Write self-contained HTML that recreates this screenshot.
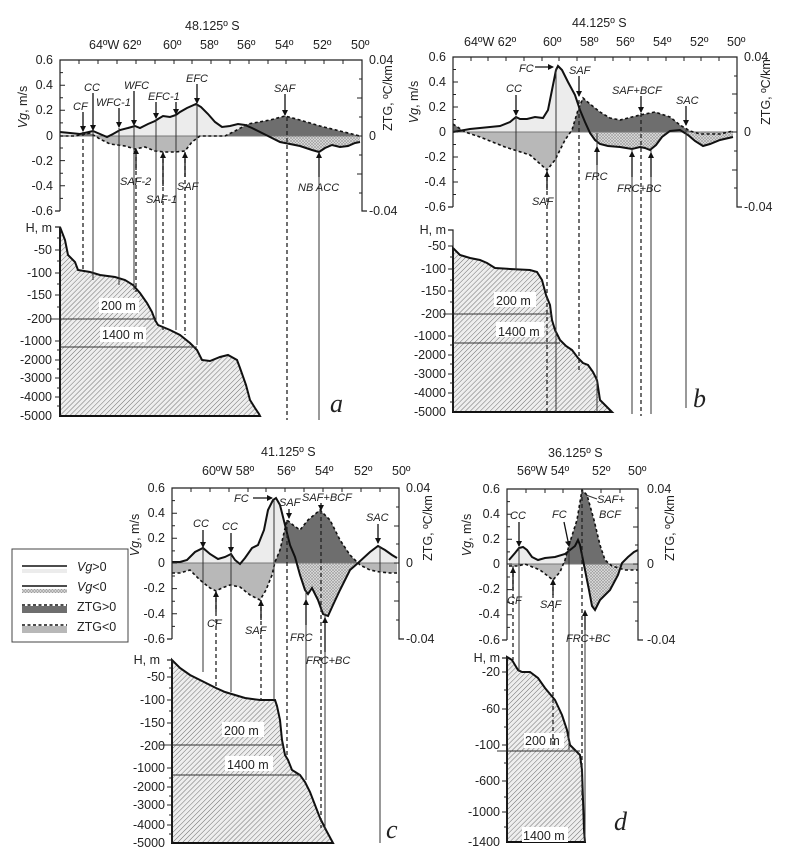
<!DOCTYPE html>
<html><head><meta charset="utf-8"><style>
html,body{margin:0;padding:0;background:#fff}
svg{display:block}
text{font-family:"Liberation Sans",Arial,sans-serif;fill:#222}
.t{font-size:12.5px}
.i{font-size:11px;font-style:italic}
.L{font-family:"Liberation Serif",serif;font-style:italic;font-size:26px}
.ax{stroke:#222;stroke-width:1.2;fill:none}
.vl{stroke:#333;stroke-width:1;fill:none}
.vd{stroke:#222;stroke-width:1.3;stroke-dasharray:4,3;fill:none}
.vg{stroke:#111;stroke-width:2;fill:none}
.zt{stroke:#111;stroke-width:1.6;stroke-dasharray:3,2.5;fill:none}
.ar{stroke:#111;stroke-width:1.3;marker-end:url(#ah)}
.bt{stroke:#111;stroke-width:2;fill:url(#hb)}
.lv{stroke:#333;stroke-width:1}
.bg{fill:#fff}
</style></head><body>
<svg width="792" height="862" viewBox="0 0 792 862" xmlns="http://www.w3.org/2000/svg">
<defs>
<marker id="ah" markerWidth="6" markerHeight="6" refX="5" refY="3" orient="auto" markerUnits="userSpaceOnUse"><path d="M0,0L6,3L0,6z" fill="#111"/></marker>
<pattern id="hb" width="3.5" height="3.5" patternUnits="userSpaceOnUse" patternTransform="rotate(45)"><rect width="3.5" height="3.5" fill="#eeeeee"/><line x1="0" y1="0" x2="0" y2="3.5" stroke="#707070" stroke-width="1"/></pattern>
<pattern id="hn" width="3" height="3" patternUnits="userSpaceOnUse"><rect width="3" height="3" fill="#e0e0e0"/><path d="M0,0L3,3M3,0L0,3" stroke="#999" stroke-width="0.6"/></pattern>
<clipPath id="ua"><rect x="0" y="0" width="792" height="136"/></clipPath>
<clipPath id="la"><rect x="0" y="136" width="792" height="300"/></clipPath>
<clipPath id="ub"><rect x="0" y="0" width="792" height="132"/></clipPath>
<clipPath id="lb"><rect x="0" y="132" width="792" height="300"/></clipPath>
<clipPath id="uc"><rect x="0" y="400" width="792" height="163"/></clipPath>
<clipPath id="lc"><rect x="0" y="563" width="792" height="300"/></clipPath>
<clipPath id="ud"><rect x="0" y="400" width="792" height="164"/></clipPath>
<clipPath id="ld"><rect x="0" y="564" width="792" height="300"/></clipPath>
</defs>

<!-- ================= PANEL A ================= -->
<g>
<path class="bt" d="M60,416L60,227L65,240L68,255L75,262L78,270L90,272L100,275L115,277L125,280L133,285L140,293L147,303L152,312L155,320L158,325L170,330L180,335L190,343L197,350L202,360L210,361L220,357L228,355L237,360L240,368L246,385L250,400L255,408L259,414L260,416Z"/>
<line class="lv" x1="50" y1="319" x2="155" y2="319"/><line class="lv" x1="60" y1="347" x2="197" y2="347"/>
<rect class="bg" x="99" y="298" width="40" height="15"/><text class="t" x="101" y="310">200 m</text>
<rect class="bg" x="100" y="327" width="46" height="15"/><text class="t" x="102" y="339">1400 m</text>
<path d="M60,136L60,132L70,133L80,134L93,131L100,134L107,137L113,134L120,130L128,128L135,126L140,128L148,124L155,121L158,119L163,116L170,117L176,115L180,112L187,108L196,104L201,107L208,114L215,122L222,127L230,126L238,124L245,125L252,128L260,132L270,137L280,142L290,144L300,146L312,150L319,152L325,148L332,145L340,147L348,146L355,143L360,142L360,136Z" fill="#ececec" clip-path="url(#ua)"/>
<path d="M60,136L75,136L90,133L100,139L110,144L125,146L135,149L145,147L155,151L165,152L175,152L185,151L192,142L200,136L225,136L235,131L248,124L270,120L285,116L300,120L320,126L340,131L360,136Z" fill="#6e6e6e" clip-path="url(#ua)"/>
<path d="M60,136L75,136L90,133L100,139L110,144L125,146L135,149L145,147L155,151L165,152L175,152L185,151L192,142L200,136L225,136L235,131L248,124L270,120L285,116L300,120L320,126L340,131L360,136Z" fill="#b8b8b8" clip-path="url(#la)"/>
<path d="M60,136L60,132L70,133L80,134L93,131L100,134L107,137L113,134L120,130L128,128L135,126L140,128L148,124L155,121L158,119L163,116L170,117L176,115L180,112L187,108L196,104L201,107L208,114L215,122L222,127L230,126L238,124L245,125L252,128L260,132L270,137L280,142L290,144L300,146L312,150L319,152L325,148L332,145L340,147L348,146L355,143L360,142L360,136Z" fill="url(#hn)" clip-path="url(#la)"/>
<line x1="60" y1="136" x2="362" y2="136" stroke="#777" stroke-width="1"/>
<path class="zt" d="M60,136L75,136L90,133L100,139L110,144L125,146L135,149L145,147L155,151L165,152L175,152L185,151L192,142L200,136L225,136L235,131L248,124L270,120L285,116L300,120L320,126L340,131L360,136"/>
<path class="vg" d="M60,132L70,133L80,134L93,131L100,134L107,137L113,134L120,130L128,128L135,126L140,128L148,124L155,121L158,119L163,116L170,117L176,115L180,112L187,108L196,104L201,107L208,114L215,122L222,127L230,126L238,124L245,125L252,128L260,132L270,137L280,142L290,144L300,146L312,150L319,152L325,148L332,145L340,147L348,146L355,143L360,142"/>
<line class="vd" x1="83" y1="132" x2="83" y2="272"/>
<line class="vl" x1="93" y1="130" x2="93" y2="280"/>
<line class="vl" x1="119" y1="128" x2="119" y2="285"/>
<line class="vl" x1="134" y1="126" x2="134" y2="290"/>
<line class="vd" x1="136" y1="150" x2="136" y2="292"/>
<line class="vl" x1="156" y1="120" x2="156" y2="320"/>
<line class="vd" x1="163" y1="152" x2="163" y2="330"/>
<line class="vl" x1="176" y1="115" x2="176" y2="330"/>
<line class="vd" x1="185" y1="152" x2="185" y2="335"/>
<line class="vl" x1="197" y1="104" x2="197" y2="345"/>
<line class="vd" x1="287" y1="117" x2="287" y2="420"/>
<line class="vl" x1="319" y1="152" x2="319" y2="420"/>
<line class="ar" x1="83" y1="112" x2="83" y2="131"/><text class="i" x="73" y="110">CF</text>
<line class="ar" x1="93" y1="93" x2="93" y2="130"/><text class="i" x="84" y="91">CC</text>
<line class="ar" x1="119" y1="108" x2="119" y2="127"/><text class="i" x="96" y="106">WFC-1</text>
<line class="ar" x1="134" y1="91" x2="134" y2="125"/><text class="i" x="124" y="89">WFC</text>
<line class="ar" x1="156" y1="102" x2="156" y2="118"/><line class="ar" x1="176" y1="102" x2="176" y2="114"/><text class="i" x="148" y="100">EFC-1</text>
<line class="ar" x1="197" y1="84" x2="197" y2="103"/><text class="i" x="186" y="82">EFC</text>
<line class="ar" x1="285" y1="94" x2="285" y2="115"/><text class="i" x="274" y="92">SAF</text>
<line class="ar" x1="136" y1="170" x2="136" y2="149"/><text class="i" x="120" y="185">SAF-2</text>
<line class="ar" x1="163" y1="186" x2="163" y2="153"/><text class="i" x="146" y="203">SAF-1</text>
<line class="ar" x1="185" y1="177" x2="185" y2="153"/><text class="i" x="177" y="190">SAF</text>
<line class="ar" x1="319" y1="177" x2="319" y2="153"/><text class="i" x="298" y="191">NB ACC</text>
<path class="ax" d="M60,211H55M60,211V60H362V211H367"/>
<path class="ax" d="M60,416V227H55"/>
<text class="t" x="185" y="30">48.125º S</text>
<text class="t" x="89" y="49">64ºW 62º</text><text class="t" x="163" y="49">60º</text><text class="t" x="200" y="49">58º</text><text class="t" x="237" y="49">56º</text><text class="t" x="275" y="49">54º</text><text class="t" x="313" y="49">52º</text><text class="t" x="351" y="49">50º</text>
<g class="t" text-anchor="end"><text x="53" y="64">0.6</text><text x="53" y="89">0.4</text><text x="53" y="114">0.2</text><text x="53" y="140">0</text><text x="53" y="165">-0.2</text><text x="53" y="190">-0.4</text><text x="53" y="215">-0.6</text>
<text x="52" y="232">H, m</text><text x="52" y="254">-50</text><text x="52" y="277">-100</text><text x="52" y="299">-150</text><text x="52" y="323">-200</text><text x="52" y="345">-1000</text><text x="52" y="364">-2000</text><text x="52" y="382">-3000</text><text x="52" y="401">-4000</text><text x="52" y="420">-5000</text></g>
<text class="t" x="369" y="64">0.04</text><text class="t" x="369" y="140">0</text><text class="t" x="369" y="215">-0.04</text>
<text class="t" transform="translate(27,107) rotate(-90)" text-anchor="middle"><tspan font-style="italic">Vg</tspan>, m/s</text>
<text class="t" transform="translate(392,98) rotate(-90)" text-anchor="middle">ZTG, ºC/km</text>
<text class="L" x="330" y="412">a</text>
</g>

<!-- ================= PANEL B ================= -->
<g>
<path class="bt" d="M453,412L453,248L460,255L470,258L480,260L487,263L495,268L510,269L530,270L537,272L542,280L546,295L550,305L552,320L555,330L560,340L566,346L572,350L578,358L583,363L588,365L593,372L597,380L600,400L606,406L612,412Z"/>
<line class="lv" x1="443" y1="314" x2="552" y2="314"/><line class="lv" x1="453" y1="343" x2="560" y2="343"/>
<rect class="bg" x="494" y="292" width="42" height="15"/><text class="t" x="496" y="305">200 m</text>
<rect class="bg" x="496" y="322" width="48" height="15"/><text class="t" x="498" y="336">1400 m</text>
<path d="M453,132L470,129L480,128L500,126L510,122L516,117L520,119L527,119L535,117L543,118L548,110L552,90L556,70L558,66L562,70L568,82L575,95L580,110L585,122L590,133L595,140L600,144L608,146L620,147L632,149L640,147L645,148L650,150L656,145L662,137L670,131L680,130L688,135L695,141L703,146L710,144L720,140L733,137L733,132Z" fill="#ececec" clip-path="url(#ub)"/>
<path d="M453,124L465,132L480,137L505,147L530,155L547,170L555,160L565,140L572,130L578,110L583,98L590,104L600,112L610,118L620,120L640,115L655,112L670,117L680,125L690,131L700,134L720,134L733,131L733,132L453,132Z" fill="#6e6e6e" clip-path="url(#ub)"/>
<path d="M453,124L465,132L480,137L505,147L530,155L547,170L555,160L565,140L572,130L578,110L583,98L590,104L600,112L610,118L620,120L640,115L655,112L670,117L680,125L690,131L700,134L720,134L733,131L733,132L453,132Z" fill="#b8b8b8" clip-path="url(#lb)"/>
<path d="M453,132L470,129L480,128L500,126L510,122L516,117L520,119L527,119L535,117L543,118L548,110L552,90L556,70L558,66L562,70L568,82L575,95L580,110L585,122L590,133L595,140L600,144L608,146L620,147L632,149L640,147L645,148L650,150L656,145L662,137L670,131L680,130L688,135L695,141L703,146L710,144L720,140L733,137L733,132Z" fill="url(#hn)" clip-path="url(#lb)"/>
<line x1="453" y1="132" x2="737" y2="132" stroke="#777"/>
<path class="zt" d="M453,124L465,132L480,137L505,147L530,155L547,170L555,160L565,140L572,130L578,110L583,98L590,104L600,112L610,118L620,120L640,115L655,112L670,117L680,125L690,131L700,134L720,134L733,131"/>
<path class="vg" d="M453,132L470,129L480,128L500,126L510,122L516,117L520,119L527,119L535,117L543,118L548,110L552,90L556,70L558,66L562,70L568,82L575,95L580,110L585,122L590,133L595,140L600,144L608,146L620,147L632,149L640,147L645,148L650,150L656,145L662,137L670,131L680,130L688,135L695,141L703,146L710,144L720,140L733,137"/>
<line class="vl" x1="516" y1="117" x2="516" y2="270"/>
<line class="vd" x1="547" y1="170" x2="547" y2="412"/>
<line class="vl" x1="556" y1="68" x2="556" y2="412"/>
<line class="vd" x1="579" y1="100" x2="579" y2="372"/>
<line class="vl" x1="597" y1="133" x2="597" y2="412"/>
<line class="vl" x1="632" y1="149" x2="632" y2="414"/>
<line class="vd" x1="641" y1="113" x2="641" y2="416"/>
<line class="vl" x1="651" y1="150" x2="651" y2="414"/>
<line class="vl" x1="686" y1="130" x2="686" y2="408"/>
<line class="ar" x1="516" y1="95" x2="516" y2="115"/><text class="i" x="506" y="92">CC</text>
<line class="ar" x1="535" y1="67" x2="553" y2="67"/><text class="i" x="519" y="72">FC</text>
<line class="ar" x1="579" y1="76" x2="579" y2="96"/><text class="i" x="569" y="74">SAF</text>
<line class="ar" x1="641" y1="96" x2="641" y2="112"/><text class="i" x="612" y="94">SAF+BCF</text>
<line class="ar" x1="686" y1="106" x2="686" y2="125"/><text class="i" x="676" y="104">SAC</text>
<line class="ar" x1="547" y1="190" x2="547" y2="172"/><text class="i" x="532" y="205">SAF</text>
<line class="ar" x1="597" y1="165" x2="597" y2="147"/><text class="i" x="585" y="180">FRC</text>
<line class="ar" x1="632" y1="177" x2="632" y2="152"/><line class="ar" x1="651" y1="177" x2="651" y2="153"/><text class="i" x="617" y="192">FRC+BC</text>
<path class="ax" d="M453,207H448M453,207V57H737V207H742"/>
<path class="ax" d="M453,412V230H448"/>
<text class="t" x="572" y="27">44.125º S</text>
<text class="t" x="464" y="46">64ºW 62º</text><text class="t" x="543" y="46">60º</text><text class="t" x="580" y="46">58º</text><text class="t" x="616" y="46">56º</text><text class="t" x="653" y="46">54º</text><text class="t" x="690" y="46">52º</text><text class="t" x="727" y="46">50º</text>
<g class="t" text-anchor="end"><text x="446" y="61">0.6</text><text x="446" y="86">0.4</text><text x="446" y="111">0.2</text><text x="446" y="136">0</text><text x="446" y="161">-0.2</text><text x="446" y="186">-0.4</text><text x="446" y="211">-0.6</text>
<text x="446" y="234">H, m</text><text x="446" y="250">-50</text><text x="446" y="273">-100</text><text x="446" y="295">-150</text><text x="446" y="318">-200</text><text x="446" y="340">-1000</text><text x="446" y="359">-2000</text><text x="446" y="378">-3000</text><text x="446" y="397">-4000</text><text x="446" y="416">-5000</text></g>
<text class="t" x="744" y="61">0.04</text><text class="t" x="744" y="136">0</text><text class="t" x="744" y="211">-0.04</text>
<text class="t" transform="translate(418,102) rotate(-90)" text-anchor="middle"><tspan font-style="italic">Vg</tspan>, m/s</text>
<text class="t" transform="translate(770,92) rotate(-90)" text-anchor="middle">ZTG, ºC/km</text>
<text class="L" x="693" y="407">b</text>
</g>

<!-- ================= PANEL C ================= -->
<g>
<path class="bt" d="M172,843L172,660L180,668L190,675L200,680L210,685L216,688L225,692L235,695L245,698L260,700L270,700L275,700L277,706L280,720L282,740L285,755L288,760L292,770L300,775L305,782L310,792L315,805L320,818L326,830L333,843Z"/>
<line class="lv" x1="160" y1="745" x2="283" y2="745"/><line class="lv" x1="172" y1="775" x2="300" y2="775"/>
<rect class="bg" x="222" y="722" width="42" height="15"/><text class="t" x="224" y="735">200 m</text>
<rect class="bg" x="225" y="756" width="48" height="15"/><text class="t" x="227" y="769">1400 m</text>
<path d="M172,562L180,562L187,560L195,552L203,548L210,554L218,559L225,557L231,554L235,560L240,564L245,558L252,548L258,545L264,530L268,510L273,500L276,498L280,505L285,525L290,545L295,557L300,575L305,590L308,594L312,588L318,600L323,614L328,616L333,605L340,590L350,570L358,563L370,552L378,546L385,550L392,555L397,558L397,563L172,563Z" fill="#ececec" clip-path="url(#uc)"/>
<path d="M172,573L180,573L190,570L200,580L210,588L216,591L222,588L230,585L240,587L250,595L260,600L266,590L272,575L275,562L280,550L287,520L293,525L300,530L308,520L320,510L330,520L340,540L350,555L360,565L370,570L380,572L390,573L397,573L397,563L172,563Z" fill="#6e6e6e" clip-path="url(#uc)"/>
<path d="M172,573L180,573L190,570L200,580L210,588L216,591L222,588L230,585L240,587L250,595L260,600L266,590L272,575L275,562L280,550L287,520L293,525L300,530L308,520L320,510L330,520L340,540L350,555L360,565L370,570L380,572L390,573L397,573L397,563L172,563Z" fill="#b8b8b8" clip-path="url(#lc)"/>
<path d="M172,562L180,562L187,560L195,552L203,548L210,554L218,559L225,557L231,554L235,560L240,564L245,558L252,548L258,545L264,530L268,510L273,500L276,498L280,505L285,525L290,545L295,557L300,575L305,590L308,594L312,588L318,600L323,614L328,616L333,605L340,590L350,570L358,563L370,552L378,546L385,550L392,555L397,558L397,563L172,563Z" fill="url(#hn)" clip-path="url(#lc)"/>
<line x1="172" y1="563" x2="399" y2="563" stroke="#777"/>
<path class="zt" d="M172,573L180,573L190,570L200,580L210,588L216,591L222,588L230,585L240,587L250,595L260,600L266,590L272,575L275,562L280,550L287,520L293,525L300,530L308,520L320,510L330,520L340,540L350,555L360,565L370,570L380,572L390,573L397,573"/>
<path class="vg" d="M172,562L180,562L187,560L195,552L203,548L210,554L218,559L225,557L231,554L235,560L240,564L245,558L252,548L258,545L264,530L268,510L273,500L276,498L280,505L285,525L290,545L295,557L300,575L305,590L308,594L312,588L318,600L323,614L328,616L333,605L340,590L350,570L358,563L370,552L378,546L385,550L392,555L397,558"/>
<line class="vl" x1="203" y1="548" x2="203" y2="672"/>
<line class="vd" x1="216" y1="591" x2="216" y2="688"/>
<line class="vl" x1="231" y1="554" x2="231" y2="692"/>
<line class="vd" x1="261" y1="600" x2="261" y2="700"/>
<line class="vl" x1="274" y1="500" x2="274" y2="700"/>
<line class="vd" x1="287" y1="520" x2="287" y2="758"/>
<line class="vl" x1="306" y1="590" x2="306" y2="780"/>
<line class="vd" x1="321" y1="510" x2="321" y2="828"/>
<line class="vl" x1="325" y1="614" x2="325" y2="830"/>
<line class="vl" x1="380" y1="546" x2="380" y2="843"/>
<line class="ar" x1="203" y1="530" x2="203" y2="547"/><text class="i" x="193" y="527">CC</text>
<line class="ar" x1="231" y1="533" x2="231" y2="552"/><text class="i" x="222" y="530">CC</text>
<line class="ar" x1="253" y1="498" x2="272" y2="498"/><text class="i" x="234" y="502">FC</text>
<text class="i" x="279" y="506">SAF</text><line class="ar" x1="289" y1="509" x2="289" y2="518"/>
<line class="ar" x1="321" y1="503" x2="321" y2="510"/><text class="i" x="302" y="501">SAF+BCF</text>
<line class="ar" x1="378" y1="524" x2="378" y2="543"/><text class="i" x="366" y="521">SAC</text>
<line class="ar" x1="216" y1="612" x2="216" y2="592"/><text class="i" x="207" y="627">CF</text>
<line class="ar" x1="261" y1="620" x2="261" y2="601"/><text class="i" x="245" y="634">SAF</text>
<line class="ar" x1="306" y1="625" x2="306" y2="600"/><text class="i" x="290" y="641">FRC</text>
<line class="ar" x1="325" y1="652" x2="325" y2="618"/><text class="i" x="306" y="664">FRC+BC</text>
<path class="ax" d="M172,639H167M172,639V488H399V639H404"/>
<path class="ax" d="M172,843V660H167"/>
<text class="t" x="261" y="456">41.125º S</text>
<text class="t" x="202" y="475">60ºW 58º</text><text class="t" x="277" y="475">56º</text><text class="t" x="315" y="475">54º</text><text class="t" x="354" y="475">52º</text><text class="t" x="392" y="475">50º</text>
<g class="t" text-anchor="end"><text x="165" y="492">0.6</text><text x="165" y="517">0.4</text><text x="165" y="542">0.2</text><text x="165" y="567">0</text><text x="165" y="592">-0.2</text><text x="165" y="618">-0.4</text><text x="165" y="643">-0.6</text>
<text x="160" y="664">H, m</text><text x="165" y="681">-50</text><text x="165" y="704">-100</text><text x="165" y="727">-150</text><text x="165" y="750">-200</text><text x="165" y="772">-1000</text><text x="165" y="791">-2000</text><text x="165" y="809">-3000</text><text x="165" y="829">-4000</text><text x="165" y="847">-5000</text></g>
<text class="t" x="406" y="492">0.04</text><text class="t" x="406" y="567">0</text><text class="t" x="406" y="643">-0.04</text>
<text class="t" transform="translate(139,535) rotate(-90)" text-anchor="middle"><tspan font-style="italic">Vg</tspan>, m/s</text>
<text class="t" transform="translate(432,528) rotate(-90)" text-anchor="middle">ZTG, ºC/km</text>
<text class="L" x="386" y="838">c</text>
</g>

<!-- ================= PANEL D ================= -->
<g>
<path class="bt" d="M507,842L507,657L512,660L515,665L518,670L522,672L530,672L538,678L545,688L555,700L562,715L567,730L570,745L575,750L580,755L582,770L583,800L584,830L585,842Z"/>
<line class="lv" x1="497" y1="751" x2="580" y2="751"/>
<rect class="bg" x="524" y="733" width="40" height="15"/><text class="t" x="525" y="745">200 m</text>
<rect class="bg" x="522" y="827" width="46" height="15"/><text class="t" x="523" y="840">1400 m</text>
<path d="M509,564L509,560L515,553L519,548L523,547L527,550L532,557L538,560L545,558L555,557L565,554L570,550L575,546L578,540L580,545L584,565L589,590L592,606L595,610L600,600L610,590L618,575L622,563L628,557L634,552L638,550L638,564Z" fill="#ececec" clip-path="url(#ud)"/>
<path d="M509,566L518,566L525,564L540,570L553,580L560,572L565,560L570,542L577,520L582,490L587,495L594,520L600,545L605,560L612,566L625,570L638,570L638,564L509,564Z" fill="#6e6e6e" clip-path="url(#ud)"/>
<path d="M509,566L518,566L525,564L540,570L553,580L560,572L565,560L570,542L577,520L582,490L587,495L594,520L600,545L605,560L612,566L625,570L638,570L638,564L509,564Z" fill="#b8b8b8" clip-path="url(#ld)"/>
<path d="M509,564L509,560L515,553L519,548L523,547L527,550L532,557L538,560L545,558L555,557L565,554L570,550L575,546L578,540L580,545L584,565L589,590L592,606L595,610L600,600L610,590L618,575L622,563L628,557L634,552L638,550L638,564Z" fill="url(#hn)" clip-path="url(#ld)"/>
<line x1="507" y1="564" x2="638" y2="564" stroke="#777"/>
<path class="zt" d="M509,566L518,566L525,564L540,570L553,580L560,572L565,560L570,542L577,520L582,490L587,495L594,520L600,545L605,560L612,566L625,570L638,570"/>
<path class="vg" d="M509,560L515,553L519,548L523,547L527,550L532,557L538,560L545,558L555,557L565,554L570,550L575,546L578,540L580,545L584,565L589,590L592,606L595,610L600,600L610,590L618,575L622,563L628,557L634,552L638,550"/>
<line class="vd" x1="513" y1="566" x2="513" y2="660"/>
<line class="vl" x1="519" y1="548" x2="519" y2="672"/>
<line class="vd" x1="553" y1="580" x2="553" y2="745"/>
<line class="vl" x1="569" y1="550" x2="569" y2="750"/>
<line class="vd" x1="582" y1="490" x2="582" y2="800"/>
<line class="vl" x1="585" y1="610" x2="585" y2="842"/>
<line class="ar" x1="519" y1="522" x2="519" y2="546"/><text class="i" x="510" y="519">CC</text>
<line class="ar" x1="564" y1="522" x2="569" y2="546"/><text class="i" x="552" y="518">FC</text>
<line x1="586" y1="495" x2="597" y2="499" stroke="#333"/><text class="i" x="597" y="503">SAF+</text><text class="i" x="599" y="518">BCF</text>
<line class="ar" x1="513" y1="590" x2="513" y2="568"/><text class="i" x="507" y="604">CF</text>
<line class="ar" x1="553" y1="595" x2="553" y2="580"/><text class="i" x="540" y="608">SAF</text>
<line class="ar" x1="585" y1="630" x2="585" y2="611"/><text class="i" x="566" y="642">FRC+BC</text>
<path class="ax" d="M507,640H502M507,640V489H638V640H643"/>
<path class="ax" d="M507,842V658H502"/>
<text class="t" x="548" y="457">36.125º S</text>
<text class="t" x="517" y="475">56ºW 54º</text><text class="t" x="592" y="475">52º</text><text class="t" x="628" y="475">50º</text>
<g class="t" text-anchor="end"><text x="500" y="493">0.6</text><text x="500" y="518">0.4</text><text x="500" y="543">0.2</text><text x="500" y="568">0</text><text x="500" y="593">-0.2</text><text x="500" y="618">-0.4</text><text x="500" y="644">-0.6</text>
<text x="500" y="662">H, m</text><text x="500" y="676">-20</text><text x="500" y="713">-60</text><text x="500" y="749">-100</text><text x="500" y="785">-600</text><text x="500" y="816">-1000</text><text x="500" y="846">-1400</text></g>
<text class="t" x="647" y="493">0.04</text><text class="t" x="647" y="568">0</text><text class="t" x="647" y="644">-0.04</text>
<text class="t" transform="translate(471,535) rotate(-90)" text-anchor="middle"><tspan font-style="italic">Vg</tspan>, m/s</text>
<text class="t" transform="translate(674,528) rotate(-90)" text-anchor="middle">ZTG, ºC/km</text>
<text class="L" x="614" y="830">d</text>
</g>

<!-- legend -->
<rect x="12" y="549" width="116" height="93" fill="#fff" stroke="#444"/>
<line x1="22" y1="566" x2="67" y2="566" stroke="#111" stroke-width="1.5"/><rect x="22" y="569" width="45" height="4" fill="#ececec"/>
<text class="t" x="77" y="571"><tspan font-style="italic">Vg</tspan>&gt;0</text>
<line x1="22" y1="586" x2="67" y2="586" stroke="#111" stroke-width="1.5"/><rect x="22" y="589" width="45" height="4" fill="url(#hn)"/>
<text class="t" x="77" y="591"><tspan font-style="italic">Vg</tspan>&lt;0</text>
<rect x="22" y="606" width="45" height="7" fill="#6e6e6e"/><line x1="22" y1="605" x2="67" y2="605" stroke="#111" stroke-width="1.6" stroke-dasharray="3,2.5"/>
<text class="t" x="77" y="611">ZTG&gt;0</text>
<rect x="22" y="626" width="45" height="7" fill="#b8b8b8"/><line x1="22" y1="625" x2="67" y2="625" stroke="#111" stroke-width="1.6" stroke-dasharray="3,2.5"/>
<text class="t" x="77" y="631">ZTG&lt;0</text>

<path stroke="#222" stroke-width="1" fill="none" d="
M60,72.6h3M60,85.2h5M60,97.7h3M60,110.3h5M60,122.9h3M60,136h5M60,148h3M60,160.6h5M60,173.2h3M60,185.8h5M60,198.4h3
M362,79h-3M362,98h-5M362,117h-3M362,136h-5M362,155h-3M362,174h-5M362,193h-3
M79,60v4M98,60v4M117,60v4M136,60v4M155,60v4M174,60v4M192,60v4M211,60v4M230,60v4M249,60v4M268,60v4M286,60v4M305,60v4M324,60v4M343,60v4
M60,250h-5M60,273h-5M60,295h-5M60,341h-5M60,360h-5M60,378h-5M60,397h-5M60,238h-3M60,261h-3M60,284h-3M60,307h-3M60,350h-3M60,369h-3M60,388h-3M60,406h-3
M453,69.5h3M453,82h5M453,94.5h3M453,107h5M453,119.5h3M453,132h5M453,144.5h3M453,157h5M453,169.5h3M453,182h5M453,194.5h3
M737,76h-3M737,94h-5M737,113h-3M737,132h-5M737,151h-3M737,170h-5M737,188h-3
M471,57v4M488,57v4M506,57v4M524,57v4M542,57v4M559,57v4M577,57v4M595,57v4M613,57v4M630,57v4M648,57v4M666,57v4M684,57v4M701,57v4M719,57v4
M453,246h-5M453,269h-5M453,291h-5M453,336h-5M453,355h-5M453,374h-5M453,393h-5M453,257h-3M453,280h-3M453,302h-3M453,345h-3M453,364h-3M453,383h-3M453,402h-3
M172,500.6h3M172,513.2h5M172,525.7h3M172,538.3h5M172,550.9h3M172,563h5M172,576h3M172,588.6h5M172,601.2h3M172,613.8h5M172,626.4h3
M399,507h-3M399,526h-5M399,544h-3M399,563h-5M399,582h-3M399,601h-5M399,620h-3
M191,488v4M210,488v4M229,488v4M248,488v4M266,488v4M285,488v4M304,488v4M323,488v4M342,488v4M361,488v4M380,488v4
M172,677h-5M172,700h-5M172,723h-5M172,768h-5M172,787h-5M172,805h-5M172,825h-5M172,668h-3M172,688h-3M172,711h-3M172,734h-3M172,778h-3M172,796h-3M172,815h-3M172,834h-3
M507,501.6h3M507,514.2h5M507,526.7h3M507,539.3h5M507,551.9h3M507,564h5M507,577h3M507,589.6h5M507,602.2h3M507,614.8h5M507,627.4h3
M638,508h-3M638,527h-5M638,545h-3M638,564h-5M638,583h-3M638,602h-5M638,621h-3
M526,489v4M545,489v4M563,489v4M582,489v4M601,489v4M620,489v4
M507,672h-5M507,709h-5M507,745h-5M507,781h-5M507,812h-5M507,690h-3M507,727h-3M507,763h-3M507,797h-3M507,827h-3"/>
</svg>
</body></html>
